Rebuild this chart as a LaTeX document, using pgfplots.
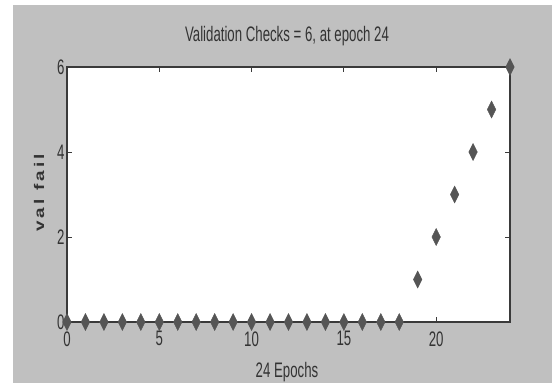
\documentclass[border=0pt]{standalone}
\usepackage{fontspec}
\setmainfont{Liberation Sans}[FakeStretch=0.63]
\newfontfamily\yfont{Liberation Sans}[FakeStretch=1.35, LetterSpace=22]
\usepackage{pgfplots}
\pgfplotsset{compat=1.18}
\definecolor{figgray}{HTML}{C0C0C0}
\definecolor{markgray}{HTML}{555555}
\definecolor{axgray}{HTML}{3A3A3A}
\begin{document}
\begin{tikzpicture}[x=1pt,y=1pt]
\fill[white] (0,0) rectangle (552,-383);
\fill[figgray] (13,-5) rectangle (552,-383);
\begin{axis}[
  at={(67pt,-322pt)}, anchor=south west,
  scale only axis, width=443pt, height=255pt,
  xmin=0, xmax=24, ymin=0, ymax=6,
  axis background/.style={fill=white},
  xtick={0,5,10,15,20}, ytick={0,2,4,6},
  tick align=inside, major tick length=5pt,
  tick style={axgray, line width=0.8pt},
  axis line style={axgray, line width=1.2pt},
  tick label style={font=\fontsize{21}{21}\selectfont, text=black!80},
  xticklabel style={yshift=-6pt},
  yticklabel style={xshift=1pt},
  /pgf/number format/assume math mode=true,
  clip=false,
]
\addplot[only marks, mark=diamond*, mark size=8.5pt,
  mark options={xscale=0.67, fill=markgray, draw=markgray}]
  coordinates {
  (0,0) (1,0) (2,0) (3,0) (4,0) (5,0) (6,0) (7,0) (8,0) (9,0)
  (10,0) (11,0) (12,0) (13,0) (14,0) (15,0) (16,0) (17,0) (18,0)
  (19,1) (20,2) (21,3) (22,4) (23,5) (24,6)
  };
\end{axis}
\node[text=black!80, font=\fontsize{21}{21}\selectfont] at (287,-36) {Validation Checks = 6, at epoch 24};
\node[text=black!80, font=\fontsize{21}{21}\selectfont] at (287,-372) {24 Epochs};
\node[text=black!80, rotate=90, font=\fontsize{14}{14}\selectfont\yfont\bfseries] at (39,-193) {val fail};
\end{tikzpicture}
\end{document}
